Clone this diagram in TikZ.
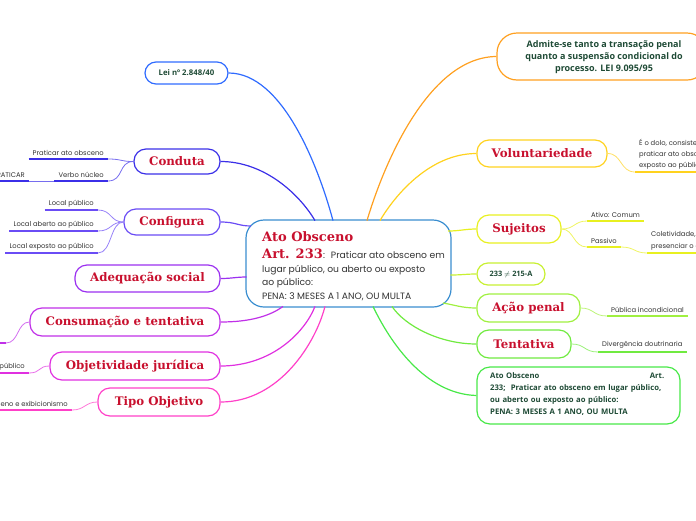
\documentclass[tikz,border=0pt]{standalone}
\usepackage{fontspec}
\setmainfont{Poppins}
\newfontfamily\titlef{DejaVu Serif}
\newfontfamily\greenf{Open Sans}
\definecolor{tred}{HTML}{C8102E}
\definecolor{tgreen}{HTML}{1E4A35}
\definecolor{tgray}{HTML}{333333}
\definecolor{cblue}{HTML}{3A8ED0}
\definecolor{clei}{HTML}{2F6BFF}
\definecolor{ccond}{HTML}{3B2FE8}
\definecolor{cconf}{HTML}{6A4CF5}
\definecolor{cadeq}{HTML}{9B30F0}
\definecolor{ccons}{HTML}{C030E8}
\definecolor{cobj}{HTML}{E030E0}
\definecolor{ctipo}{HTML}{FF40C8}
\definecolor{cadm}{HTML}{FFA020}
\definecolor{cvol}{HTML}{FFD21E}
\definecolor{csuj}{HTML}{E8F020}
\definecolor{cnum}{HTML}{C8F032}
\definecolor{cacao}{HTML}{A0F040}
\definecolor{ctent}{HTML}{70EA40}
\definecolor{cato}{HTML}{48E848}
\tikzset{
  topic/.style={draw=#1, line width=1.2pt, rounded corners=12pt, inner sep=0pt,
    font=\titlef\bfseries\fontsize{11.8}{13}\selectfont, text=tred},
  gbox/.style={draw=#1, line width=1.2pt, rounded corners=11pt, inner sep=0pt,
    font=\greenf\bfseries\fontsize{8}{11}\selectfont, text=tgreen},
  conn/.style={draw=#1, line width=1.2pt},
  sub/.style={draw=#1!70, line width=0.8pt},
  lbl/.style={inner xsep=4pt, inner ysep=3pt, font=\fontsize{6.8}{10.5}\selectfont, text=tgray},
  uline/.style={draw=#1, line width=1.8pt},
  cbody/.style={anchor=base west, inner sep=0pt, font=\fontsize{9.2}{10}\selectfont, text=tgray},
  ctitle/.style={anchor=base west, inner sep=0pt, font=\titlef\bfseries\fontsize{13}{14}\selectfont, text=tred},
}
\begin{document}
\begin{tikzpicture}[x=1pt,y=-1pt]
\useasboundingbox (0,0) rectangle (696,520);
\clip (0,0) rectangle (696,520);

% ---------- center ----------
\node[draw=cblue, line width=1.2pt, rounded corners=18pt, minimum width=205pt, minimum height=87pt, inner sep=0pt] (c) at (348.5,263.5) {};
\node[ctitle] (ct1) at (262,241) {Ato Obsceno};
\node[ctitle] (ct2) at (262,258) {Art. 233};
\node[cbody] (ct3) at (ct2.base east) {: \ Praticar ato obsceno em};
\node[cbody] (ct4) at (262,272) {lugar público, ou aberto ou exposto};
\node[cbody] (ct5) at (262,285.5) {ao público:};
\node[cbody] (ct6) at (262,299.5) {PENA: 3 MESES A 1 ANO, OU MULTA};

\coordinate (pLei) at (333,220.6);
\coordinate (pCond) at (315,220.6);
\coordinate (pConf) at (251,226);
\coordinate (pAdeq) at (246.6,277);
\coordinate (pCons) at (283,306.4);
\coordinate (pObj) at (315,306.4);
\coordinate (pTipo) at (325,306.4);
\coordinate (pAdm) at (367,220.6);
\coordinate (pVol) at (380,220.6);
\coordinate (pSuj) at (448,231);
\coordinate (pNum) at (450.4,275);
\coordinate (pAcao) at (443,303);
\coordinate (pTent) at (392,306.4);
\coordinate (pAto) at (373,306.4);

% ---------- left topics ----------
\node[gbox=clei, minimum width=83pt, minimum height=22pt, font=\greenf\bfseries\fontsize{7.8}{9}\selectfont] (lei) at (186.5,73) {Lei nº 2.848/40};
\node[topic=ccond, minimum width=86pt, minimum height=25pt] (cond) at (177,161.5) {Conduta};
\node[topic=cconf, minimum width=96pt, minimum height=26pt] (conf) at (172,222) {Configura};
\node[topic=cadeq, minimum width=145pt, minimum height=27pt] (adeq) at (147.5,278.5) {Adequação social};
\node[topic=ccons, minimum width=190pt, minimum height=28pt] (cons) at (125,322) {Consumação e tentativa};
\node[topic=cobj, minimum width=170pt, minimum height=28pt] (obj) at (135,366) {Objetividade jurídica};
\node[topic=ctipo, minimum width=122pt, minimum height=28pt] (tipo) at (159,402) {Tipo Objetivo};

\draw[conn=clei] (lei.east) .. controls (282,73) and (318,165) .. (pLei);
\draw[conn=ccond] (cond.east) .. controls (265,161.5) and (300,195) .. (pCond);
\draw[conn=cconf] (conf.east) .. controls (236,222) and (238,226) .. (pConf);
\draw[conn=cadeq] (adeq.east) .. controls (232,278.5) and (236,277) .. (pAdeq);
\draw[conn=ccons] (cons.east) .. controls (250,322) and (270,316) .. (pCons);
\draw[conn=cobj] (obj.east) .. controls (272,366) and (305,332) .. (pObj);
\draw[conn=ctipo] (tipo.east) .. controls (280,402) and (316,342) .. (pTipo);

% left children
\node[lbl, anchor=south east] (prat) at (108,159) {Praticar ato obsceno};
\node[lbl, anchor=south east] (verbo) at (108,181) {Verbo núcleo};
\node[lbl, anchor=south east] (pratc) at (29,181) {PRATICAR};
\node[lbl, anchor=south east] (lpub) at (98,210) {Local público};
\node[lbl, anchor=south east] (labe) at (98,231) {Local aberto ao público};
\node[lbl, anchor=south east] (lexp) at (98,253) {Local exposto ao público};
\coordinate (consE) at (6,343);
\coordinate (consW) at (-10,343);
\node[lbl, anchor=south east] (pudor) at (29,373) {O pudor público};
\node[lbl, anchor=south east] (exib) at (72,410) {Ato obsceno e exibicionismo};

\foreach \n in {prat,verbo,pratc} \draw[uline=ccond] (\n.south west) -- (\n.south east);
\foreach \n in {lpub,labe,lexp} \draw[uline=cconf] (\n.south west) -- (\n.south east);
\draw[uline=ccons] (consW) -- (consE);
\draw[uline=cobj] (pudor.south west) -- (pudor.south east);
\draw[uline=ctipo] (exib.south west) -- (exib.south east);

\draw[sub=ccond] (cond.west) .. controls (120,161.5) and (122,159) .. (prat.south east);
\draw[sub=ccond] (cond.west) .. controls (118,161.5) and (124,181) .. (verbo.south east);
\draw[sub=ccond] (verbo.south west) -- (pratc.south east);
\draw[sub=cconf] (conf.west) .. controls (110,222) and (112,210) .. (lpub.south east);
\draw[sub=cconf] (conf.west) .. controls (110,222) and (112,231) .. (labe.south east);
\draw[sub=cconf] (conf.west) .. controls (110,222) and (112,253) .. (lexp.south east);
\draw[sub=ccons] (cons.west) .. controls (17,322) and (19,343) .. (consE);
\draw[sub=cobj] (obj.west) .. controls (38,366) and (41,373) .. (pudor.south east);
\draw[sub=ctipo] (tipo.west) .. controls (85,402) and (85,410) .. (exib.south east);

% ---------- right topics ----------
\node[gbox=cadm, minimum width=210pt, minimum height=47pt, align=center, rounded corners=20pt] (adm) at (602,56.5) {};
\node[inner sep=0pt, align=center, font=\greenf\bfseries\fontsize{9}{12}\selectfont, text=tgreen] (admt) at (604,57.5) {Admite-se tanto a transação penal\\quanto a suspensão condicional do\\processo. LEI 9.095/95};
\node[topic=cvol, minimum width=130pt, minimum height=27pt] (vol) at (542,153.5) {Voluntariedade};
\node[topic=csuj, minimum width=84pt, minimum height=28pt] (suj) at (519,229) {Sujeitos};
\node[gbox=cnum, minimum width=68pt, minimum height=22pt, font=\greenf\bfseries\fontsize{7.4}{8}\selectfont] (num) at (511,274) {233 $\neq$ 215-A};
\node[topic=cacao, minimum width=103pt, minimum height=28pt] (acao) at (528.5,308) {Ação penal};
\node[topic=ctent, minimum width=94pt, minimum height=28pt] (tent) at (524,344) {Tentativa};
\node[gbox=cato, minimum width=203pt, minimum height=57pt, rounded corners=13pt] (ato) at (578.5,395.5) {};
\node[anchor=north west, inner sep=0pt, text width=174pt, align=left, font=\greenf\bfseries\fontsize{7.7}{12}\selectfont, text=tgreen] (atot) at (490,372) {Ato Obsceno\hfill Art.\\233;\ \ Praticar ato obsceno em lugar público,\\ou aberto ou exposto ao público:\\PENA: 3 MESES A 1 ANO, OU MULTA};

\draw[conn=cadm] (adm.west) .. controls (430,57) and (385,160) .. (pAdm);
\draw[conn=cvol] (vol.west) .. controls (430,153.5) and (395,195) .. (pVol);
\draw[conn=csuj] (suj.west) .. controls (465,229) and (460,231) .. (pSuj);
\draw[conn=cnum] (num.west) .. controls (466,274) and (462,275) .. (pNum);
\draw[conn=cacao] (acao.west) .. controls (462,308) and (455,305) .. (pAcao);
\draw[conn=ctent] (tent.west) .. controls (440,344) and (405,326) .. (pTent);
\draw[conn=cato] (ato.west) .. controls (425,394) and (390,342) .. (pAto);

% right children
\node[lbl, anchor=south west, align=left, font=\fontsize{6.8}{11}\selectfont] (dolo) at (635,172) {É o dolo, consistente na vontade de\\praticar ato obsceno em lugar público ou\\exposto ao público};
\node[lbl, anchor=south west] (ativo) at (587,221) {Ativo: Comum};
\node[lbl, anchor=south west] (pass) at (587,247) {Passivo};
\node[lbl, anchor=south west, align=left, font=\fontsize{6.8}{12}\selectfont] (colet) at (647,253) {Coletividade, e quem possa\\presenciar o ato};
\node[lbl, anchor=south west] (publ) at (607,316) {Pública incondicional};
\node[lbl, anchor=south west] (diverg) at (598,352) {Divergência doutrinaria};

\draw[uline=cvol] (dolo.south west) -- ++(80,0);
\foreach \n in {ativo,pass} \draw[uline=csuj] (\n.south west) -- (\n.south east);
\draw[uline=csuj] (colet.south west) -- ++(80,0);
\draw[uline=cacao] (publ.south west) -- (publ.south east);
\draw[uline=ctent] (diverg.south west) -- (diverg.south east);

\draw[sub=cvol] (vol.east) .. controls (622,153.5) and (620,172) .. (dolo.south west);
\draw[sub=csuj] (suj.east) .. controls (575,229) and (574,221) .. (ativo.south west);
\draw[sub=csuj] (suj.east) .. controls (574,229) and (573,247) .. (pass.south west);
\draw[sub=csuj] (pass.south east) .. controls (635,247) and (634,253) .. (colet.south west);
\draw[sub=cacao] (acao.east) .. controls (594,308) and (593,316) .. (publ.south west);
\draw[sub=ctent] (tent.east) .. controls (585,344) and (584,352) .. (diverg.south west);
\end{tikzpicture}
\end{document}
